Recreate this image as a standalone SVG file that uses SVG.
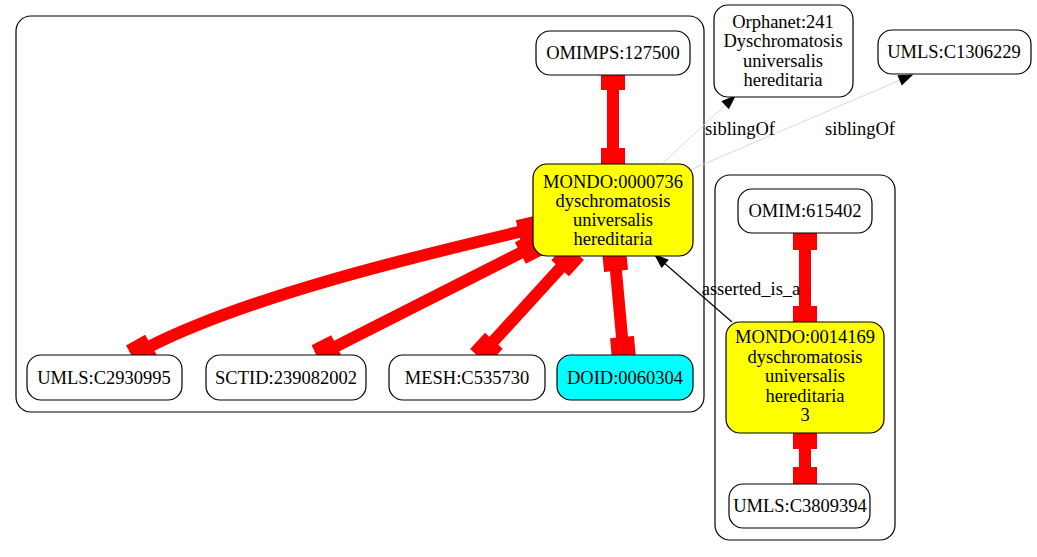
<svg xmlns="http://www.w3.org/2000/svg" width="1037" height="557" viewBox="0 0 1037 557">
<style>
  text { font-family: "Liberation Serif", "Times New Roman", serif; font-size: 18.5px; fill: #000; text-anchor: middle; }
  .cluster { fill: none; stroke: #000; stroke-width: 1.2; }
  .node { fill: #fff; stroke: #000; stroke-width: 1.2; }
  .yellow { fill: #ffff00; }
  .cyan { fill: #00ffff; }
  .red { fill: none; stroke: #ff0000; stroke-width: 12; marker-start: url(#box); marker-end: url(#box); }
  .sib { fill: none; stroke: #d9d9d9; stroke-width: 1; marker-end: url(#arr); }
  .isa { fill: none; stroke: #000; stroke-width: 1.2; marker-end: url(#arr); }
</style>
<defs>
  <marker id="box" markerUnits="userSpaceOnUse" markerWidth="26" markerHeight="26" viewBox="-23 -13 24 26" refX="0" refY="0" orient="auto-start-reverse" overflow="visible">
    <rect x="-22" y="-12" width="22" height="24" fill="#ff0000"/>
  </marker>
  <marker id="arr" markerUnits="userSpaceOnUse" markerWidth="14" markerHeight="12" viewBox="0 -6 14 12" refX="13" refY="0" orient="auto" overflow="visible">
    <path d="M0,-4.8 L13,0 L0,4.8 z" fill="#000" stroke="#000" stroke-width="1"/>
  </marker>
</defs>

<g id="clusters">
  <rect class="cluster" x="16" y="16" width="688" height="396" rx="15"/>
  <rect class="cluster" x="715" y="175" width="180" height="365" rx="15"/>
</g>

<g id="connectors">
  <path class="red" d="M613,68 L613,170"/>
  <path class="red" d="M540,227 C420,255 230,300 132,356"/>
  <path class="red" d="M540,243 L317,356"/>
  <path class="red" d="M575,252 L479,357"/>
  <path class="red" d="M614,249 L624,359"/>
  <path class="red" d="M805,228 L805,328"/>
  <path class="red" d="M805,427 L805,489"/>
  <path class="sib" d="M663,163 L735,96"/>
  <path class="sib" d="M690,170 L912,75"/>
  <path class="isa" d="M732,322 L655,255"/>
  <text x="740" y="135">siblingOf</text>
  <text x="860" y="135">siblingOf</text>
  <text x="751" y="295">asserted_is_a</text>
</g>

<g id="OMIMPS_127500">
  <rect class="node" x="536" y="31" width="154" height="44" rx="14"/>
  <text x="613" y="59">OMIMPS:127500</text>
</g>
<g id="Orphanet_241">
  <rect class="node" x="714" y="5" width="139" height="92" rx="14"/>
  <text x="783" y="28">Orphanet:241</text>
  <text x="783" y="47">Dyschromatosis</text>
  <text x="783" y="67">universalis</text>
  <text x="783" y="86">hereditaria</text>
</g>
<g id="UMLS_C1306229">
  <rect class="node" x="878" y="30" width="153" height="44" rx="14"/>
  <text x="954" y="58">UMLS:C1306229</text>
</g>
<g id="MONDO_0000736">
  <rect class="node yellow" x="533" y="164" width="160" height="92" rx="14"/>
  <text x="613" y="188">MONDO:0000736</text>
  <text x="613" y="207">dyschromatosis</text>
  <text x="613" y="226">universalis</text>
  <text x="613" y="245">hereditaria</text>
</g>
<g id="UMLS_C2930995">
  <rect class="node" x="27" y="355" width="155" height="45" rx="14"/>
  <text x="104" y="384">UMLS:C2930995</text>
</g>
<g id="SCTID_239082002">
  <rect class="node" x="206" y="355" width="160" height="45" rx="14"/>
  <text x="286" y="384">SCTID:239082002</text>
</g>
<g id="MESH_C535730">
  <rect class="node" x="389" y="355" width="156" height="45" rx="14"/>
  <text x="467" y="384">MESH:C535730</text>
</g>
<g id="DOID_0060304">
  <rect class="node cyan" x="557" y="355" width="136" height="45" rx="14"/>
  <text x="625" y="384">DOID:0060304</text>
</g>
<g id="OMIM_615402">
  <rect class="node" x="738" y="189" width="134" height="44" rx="14"/>
  <text x="805" y="217">OMIM:615402</text>
</g>
<g id="MONDO_0014169">
  <rect class="node yellow" x="726" y="322" width="158" height="111" rx="14"/>
  <text x="805" y="343">MONDO:0014169</text>
  <text x="805" y="363">dyschromatosis</text>
  <text x="805" y="382">universalis</text>
  <text x="805" y="402">hereditaria</text>
  <text x="805" y="421">3</text>
</g>
<g id="UMLS_C3809394">
  <rect class="node" x="729" y="484" width="141" height="44" rx="14"/>
  <text x="800" y="512">UMLS:C3809394</text>
</g>
</svg>
